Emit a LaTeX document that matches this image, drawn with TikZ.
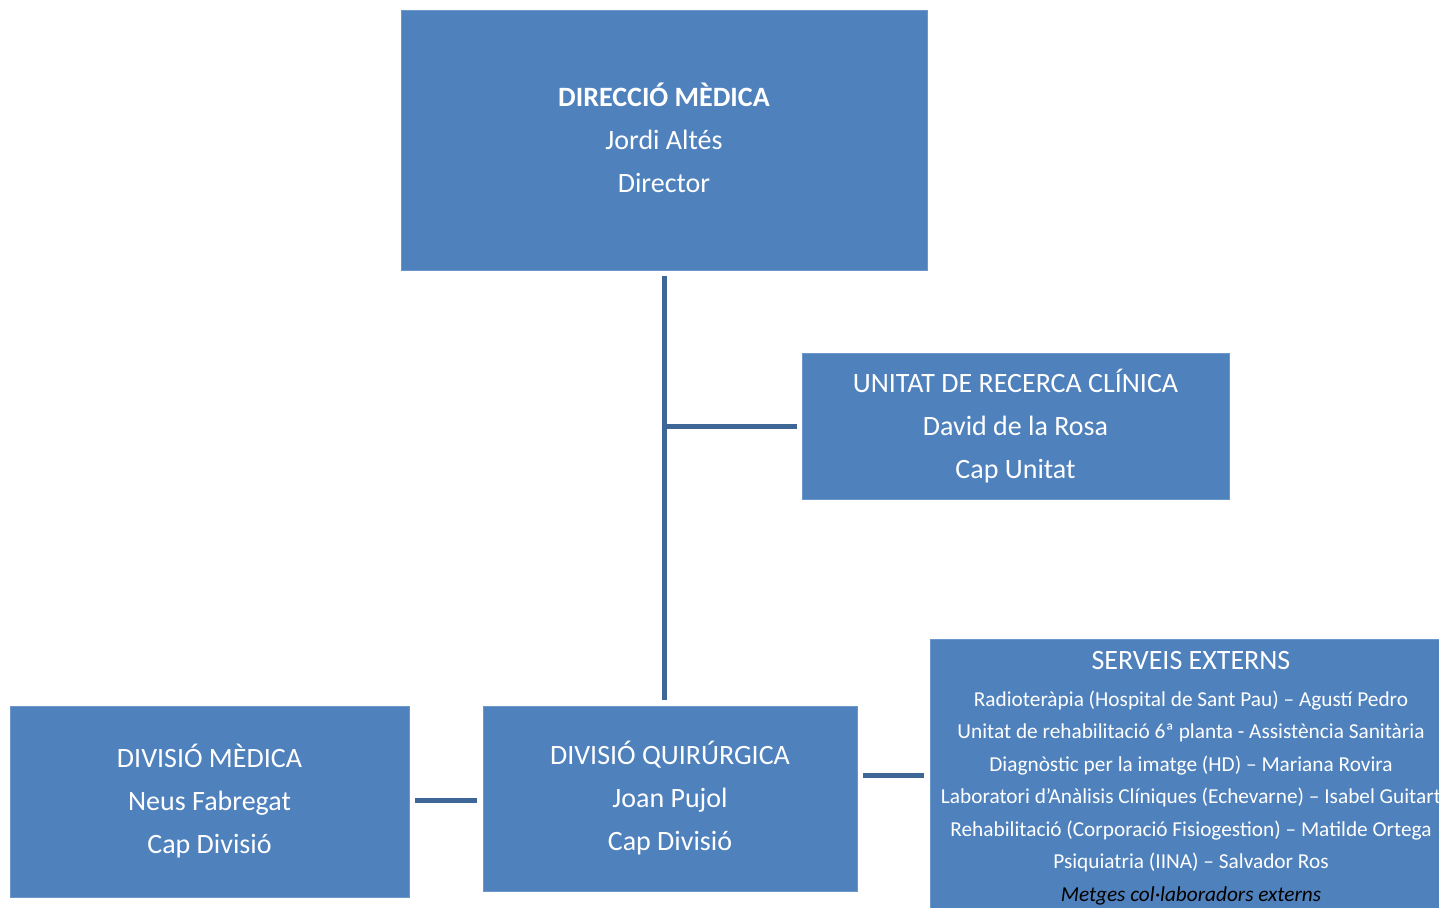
\documentclass[tikz,border=0pt]{standalone}
\usepackage{fontspec}
\setmainfont{Carlito}
\definecolor{boxfill}{HTML}{4F81BD}
\definecolor{boxedge}{HTML}{6C97CA}
\definecolor{connc}{HTML}{3E6696}
\begin{document}
\begin{tikzpicture}[x=1pt,y=-1pt,
  orgbox/.style={fill=boxfill,draw=boxedge,line width=0.8pt,text=white,align=center,inner sep=0pt,
    font=\fontsize{28}{43}\selectfont},
  conn/.style={draw=connc,line width=5pt},
  setext/.style={text=white,align=center,inner sep=0pt,font=\fontsize{21.3}{32.5}\selectfont}]
\useasboundingbox (0,0) rectangle (1439,907);
\begin{scope}
\clip (0,0) rectangle (1439,907);
\node[orgbox,minimum width=526,minimum height=260,text depth=4pt] (top) at (664,140)
  {\textbf{DIRECCIÓ MÈDICA}\\Jordi Altés\\Director};
\node[orgbox,minimum width=427,minimum height=146] (un) at (1015.5,426)
  {UNITAT DE RECERCA CLÍNICA\\David de la Rosa\\Cap Unitat};
\node[orgbox,minimum width=399,minimum height=191] (dm) at (209.5,801.5)
  {DIVISIÓ MÈDICA\\Neus Fabregat\\Cap Divisió};
\node[orgbox,minimum width=374,minimum height=185] (dq) at (670,798.5)
  {DIVISIÓ QUIRÚRGICA\\Joan Pujol\\Cap Divisió};
\node[orgbox,anchor=north west,minimum width=522,minimum height=300] (se) at (930,639) {};
\node[setext,anchor=north] (sel) at (1191,651)
  {{\fontsize{28}{37}\selectfont SERVEIS EXTERNS}\\[4.5pt]
   Radioteràpia (Hospital de Sant Pau) – Agustí Pedro\\
   Unitat de rehabilitació 6ª planta - Assistència Sanitària\\
   Diagnòstic per la imatge (HD) – Mariana Rovira\\
   Laboratori d’Anàlisis Clíniques (Echevarne) – Isabel Guitart\\
   Rehabilitació (Corporació Fisiogestion) – Matilde Ortega\\
   Psiquiatria (IINA) – Salvador Ros\\
   \textcolor{black}{\itshape Metges col·laboradors externs}};
\coordinate (h1) at (0,800);
\coordinate (h2) at (0,775);
\draw[conn,shorten <=6pt,shorten >=6pt] (top.south) -- (top.south |- dq.north);
\draw[conn,shorten >=5pt] (top.south |- un.west) -- (un.west);
\draw[conn,shorten <=6pt,shorten >=6pt] (dm.east |- h1) -- (dq.west |- h1);
\draw[conn,shorten <=6pt,shorten >=6pt] (dq.east |- h2) -- (se.west |- h2);
\end{scope}
\end{tikzpicture}
\end{document}
